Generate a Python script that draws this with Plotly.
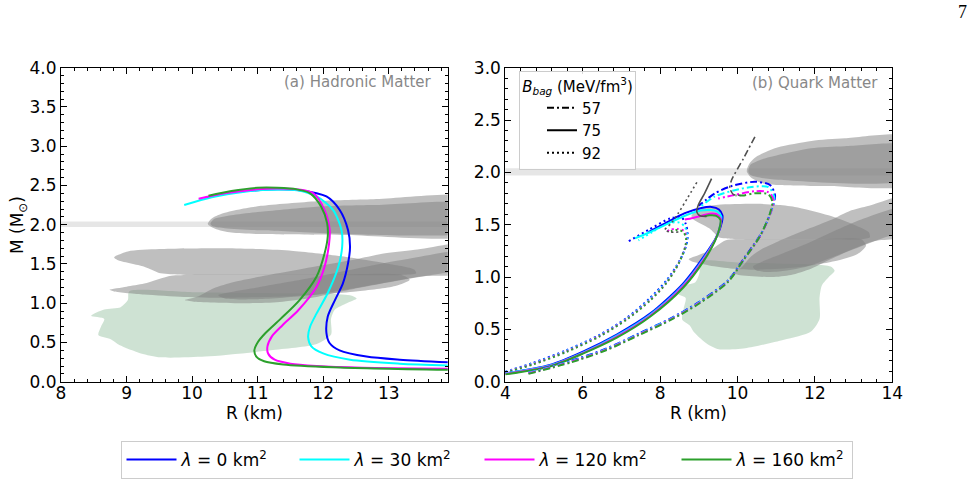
import plotly.graph_objects as go

# ---------------- constraint regions (R in km, M in Msun) ----------------
band_R = [0.0, 20.0, 20.0, 0.0]
band_M = [1.97, 1.97, 2.04, 2.04]

green_R = [9.04, 10.0, 11.0, 12.0, 12.41, 12.51, 12.36, 12.18, 12.12, 12.12, 11.9, 11.2, 10.2,
           9.52, 9.22, 8.89, 8.76, 8.57, 8.61, 8.66, 8.46, 8.66, 8.91, 9.02]
green_M = [1.15, 1.14, 1.13, 1.12, 1.10, 1.06, 1.00, 0.92, 0.80, 0.60, 0.48, 0.40, 0.32,
           0.31, 0.36, 0.467, 0.54, 0.595, 0.70, 0.80, 0.84, 0.92, 0.95, 1.04]

j0740a_R = [10.24, 10.30, 10.45, 10.70, 11.05, 11.91, 12.77, 14.5, 14.5, 12.3, 11.05, 10.6, 10.35]
j0740a_M = [2.01, 2.08, 2.14, 2.19, 2.24, 2.30, 2.325, 2.335, 1.89, 1.87, 1.88, 1.90, 1.95]
j0740b_R = [10.28, 10.33, 10.6, 11.05, 11.9, 12.77, 14.5, 14.5, 11.05, 10.5, 10.32]
j0740b_M = [2.01, 2.07, 2.12, 2.165, 2.23, 2.25, 2.25, 1.94, 1.93, 1.955, 1.98]

j0030a_R = [8.81, 9.02, 9.5, 10.5, 11.0, 11.48, 12.35, 12.95, 13.39, 13.42, 13.2, 12.0, 10.0, 9.67, 9.52, 9.27, 8.86]
j0030a_M = [1.585, 1.66, 1.69, 1.70, 1.69, 1.67, 1.59, 1.51, 1.43, 1.38, 1.36, 1.36, 1.36, 1.37, 1.38, 1.465, 1.55]
j0030b_R = [8.74, 9.0, 9.27, 9.68, 10.0, 12.0, 13.2, 13.32, 13.1, 12.5, 11.5, 10.5, 9.88, 9.27, 8.81]
j0030b_M = [1.17, 1.21, 1.25, 1.35, 1.36, 1.36, 1.36, 1.30, 1.22, 1.15, 1.09, 1.07, 1.08, 1.11, 1.15]

tilt_a_R = [9.89, 10.1, 10.33, 10.64, 11.05, 11.9, 12.5, 12.9, 13.4, 14.5, 14.5, 13.82, 12.9, 12.4, 11.9, 11.38, 10.88, 10.03]
tilt_a_M = [1.04, 1.09, 1.19, 1.27, 1.34, 1.47, 1.56, 1.63, 1.68, 1.78, 1.45, 1.38, 1.25, 1.17, 1.08, 1.02, 1.00, 1.02]
tilt_b_R = [10.4, 11.0, 11.8, 12.5, 13.2, 14.5, 14.5, 13.5, 12.6, 11.8, 11.0, 10.5]
tilt_b_M = [1.10, 1.20, 1.32, 1.44, 1.55, 1.68, 1.40, 1.34, 1.21, 1.10, 1.05, 1.06]

# ---------------- hadronic matter M-R curves ----------------
lam_labels = ["0", "30", "120", "160"]
lam_colors = ["#0000ff", "#00ffff", "#ff00ff", "#2ca02c"]

had_R = [
    [10.20, 10.6, 11.0, 11.3, 11.64, 12.05, 12.25, 12.38, 12.41, 12.38, 12.30, 12.18, 12.07, 12.05, 12.10, 12.25, 12.66, 13.17, 13.95],
    [9.88, 10.3, 10.8, 11.2, 11.6, 11.9, 12.15, 12.28, 12.29, 12.23, 12.07, 11.9, 11.8, 11.77, 11.82, 12.0, 12.41, 13.17, 13.95],
    [10.1, 10.5, 11.0, 11.3, 11.6, 11.85, 12.02, 12.10, 12.09, 12.02, 11.9, 11.62, 11.38, 11.22, 11.15, 11.16, 11.26, 11.5, 11.9, 12.6, 13.95],
    [10.25, 10.6, 11.0, 11.3, 11.6, 11.8, 11.97, 12.06, 12.07, 12.02, 11.9, 11.64, 11.35, 11.12, 11.0, 10.95, 10.98, 11.1, 11.39, 12.15, 13.95],
]
had_M = [
    [2.34, 2.41, 2.44, 2.45, 2.44, 2.36, 2.19, 1.93, 1.72, 1.51, 1.25, 1.04, 0.83, 0.62, 0.49, 0.40, 0.32, 0.28, 0.245],
    [2.25, 2.35, 2.42, 2.445, 2.44, 2.36, 2.19, 1.93, 1.72, 1.46, 1.13, 0.87, 0.70, 0.57, 0.45, 0.36, 0.28, 0.23, 0.205],
    [2.33, 2.40, 2.45, 2.46, 2.45, 2.40, 2.19, 1.93, 1.76, 1.46, 1.21, 0.91, 0.72, 0.58, 0.45, 0.36, 0.28, 0.23, 0.20, 0.178, 0.166],
    [2.37, 2.43, 2.47, 2.47, 2.45, 2.40, 2.23, 2.02, 1.85, 1.63, 1.34, 1.04, 0.80, 0.62, 0.50, 0.40, 0.32, 0.26, 0.22, 0.185, 0.150],
]

# ---------------- quark matter M-R curves ----------------
bag_labels = ["57", "75", "92"]

q57_R = [
    [4.6, 5.7, 6.6, 7.45, 8.3, 9.0, 9.76, 10.19, 10.62, 10.88, 10.97, 10.84, 10.45, 9.85, 9.42, 9.0],
    [4.6, 5.7, 6.6, 7.45, 8.3, 9.0, 9.76, 10.19, 10.61, 10.87, 10.95, 10.8, 10.37, 9.93, 9.42, 9.0],
    [4.6, 5.7, 6.6, 7.45, 8.3, 9.0, 9.76, 10.17, 10.6, 10.86, 10.93, 10.8, 10.45, 9.93, 9.5],
    [4.6, 5.7, 6.6, 7.45, 8.3, 9.0, 9.76, 10.15, 10.58, 10.84, 10.9, 10.8, 10.45, 10.17, 9.95],
]
q57_M = [
    [0.085, 0.20, 0.315, 0.46, 0.61, 0.76, 0.97, 1.19, 1.42, 1.64, 1.78, 1.88, 1.91, 1.87, 1.80, 1.68],
    [0.085, 0.195, 0.31, 0.455, 0.605, 0.755, 0.965, 1.18, 1.41, 1.63, 1.76, 1.86, 1.86, 1.83, 1.77, 1.66],
    [0.08, 0.19, 0.305, 0.45, 0.60, 0.75, 0.96, 1.17, 1.40, 1.62, 1.74, 1.81, 1.82, 1.785, 1.75],
    [0.075, 0.185, 0.30, 0.445, 0.595, 0.745, 0.955, 1.16, 1.39, 1.61, 1.72, 1.79, 1.80, 1.78, 1.78],
]
q57_gray_R = [10.45, 10.15, 9.85, 9.80, 9.89, 10.1]
q57_gray_M = [2.34, 2.13, 1.93, 1.85, 1.79, 1.78]

q75_R = [
    [4.0, 5.15, 6.02, 6.88, 7.74, 8.6, 9.12, 9.46, 9.60, 9.61, 9.52, 9.33, 9.07, 8.64, 8.21, 7.70],
    [4.0, 5.15, 6.02, 6.88, 7.74, 8.6, 9.12, 9.44, 9.57, 9.58, 9.48, 9.30, 9.05, 8.64, 8.2, 7.75, 7.35],
    [4.0, 5.15, 6.02, 6.88, 7.74, 8.6, 9.12, 9.43, 9.56, 9.57, 9.46, 9.28, 9.07, 8.85, 8.64],
    [4.0, 5.15, 6.02, 6.88, 7.74, 8.6, 9.12, 9.42, 9.55, 9.56, 9.45, 9.28, 9.15],
]
q75_M = [
    [0.08, 0.16, 0.29, 0.45, 0.65, 0.94, 1.19, 1.385, 1.53, 1.59, 1.645, 1.67, 1.66, 1.61, 1.53, 1.43],
    [0.08, 0.155, 0.28, 0.44, 0.64, 0.925, 1.175, 1.37, 1.52, 1.58, 1.625, 1.64, 1.635, 1.585, 1.51, 1.43, 1.37],
    [0.075, 0.15, 0.275, 0.43, 0.63, 0.915, 1.165, 1.36, 1.50, 1.555, 1.60, 1.605, 1.585, 1.565, 1.55],
    [0.07, 0.145, 0.27, 0.42, 0.62, 0.90, 1.15, 1.345, 1.49, 1.545, 1.585, 1.59, 1.58],
]
q75_gray_R = [9.33, 9.15, 8.99, 8.95, 9.03, 9.2]
q75_gray_M = [1.94, 1.80, 1.69, 1.62, 1.585, 1.58]

q92_R = [
    [4.0, 4.72, 5.58, 6.45, 7.14, 7.74, 8.17, 8.51, 8.69, 8.71, 8.66, 8.55, 8.26, 7.70, 7.18],
    [4.0, 4.72, 5.58, 6.45, 7.14, 7.74, 8.17, 8.50, 8.68, 8.70, 8.64, 8.5, 8.17, 7.80, 7.44],
    [4.0, 4.72, 5.58, 6.45, 7.14, 7.74, 8.17, 8.49, 8.66, 8.68, 8.62, 8.45, 8.25, 8.15],
    [4.0, 4.72, 5.58, 6.45, 7.14, 7.74, 8.17, 8.48, 8.65, 8.67, 8.6, 8.45, 8.3, 8.2],
]
q92_M = [
    [0.095, 0.18, 0.30, 0.45, 0.61, 0.80, 0.97, 1.16, 1.32, 1.42, 1.51, 1.57, 1.56, 1.45, 1.34],
    [0.092, 0.175, 0.295, 0.445, 0.605, 0.79, 0.96, 1.15, 1.31, 1.40, 1.48, 1.52, 1.51, 1.43, 1.35],
    [0.09, 0.17, 0.29, 0.44, 0.60, 0.78, 0.95, 1.14, 1.30, 1.38, 1.44, 1.46, 1.45, 1.43],
    [0.088, 0.165, 0.285, 0.435, 0.595, 0.775, 0.945, 1.13, 1.29, 1.37, 1.43, 1.45, 1.44, 1.43],
]
q92_gray_R = [8.95, 8.7, 8.47, 8.28, 8.12, 8.25, 8.5]
q92_gray_M = [1.905, 1.75, 1.61, 1.51, 1.45, 1.43, 1.43]

# ---------------- styles ----------------
FONT = "DejaVu Sans"
FS = 17
GRAY_FILL = "rgba(128,128,128,0.5)"
GREEN_FILL = "rgba(60,140,80,0.25)"
BAND_FILL = "rgba(200,200,200,0.45)"
DASHDOT = "7px,3px,2px,3px"
DOT = "2px,3px"
GRAYLINE = "#505050"

fig = go.Figure()


def add_poly(xs, ys, color, xa, ya, shape="spline"):
    fig.add_trace(go.Scatter(
        x=list(xs) + [xs[0]], y=list(ys) + [ys[0]], mode="lines", fill="toself",
        fillcolor=color, line=dict(width=0, color=color, shape=shape, smoothing=0.7),
        hoverinfo="skip", showlegend=False, xaxis=xa, yaxis=ya))


for xa, ya in [("x", "y"), ("x2", "y2")]:
    add_poly(band_R, band_M, BAND_FILL, xa, ya, shape="linear")
    add_poly(green_R, green_M, GREEN_FILL, xa, ya)
    add_poly(j0740a_R, j0740a_M, GRAY_FILL, xa, ya)
    add_poly(j0740b_R, j0740b_M, GRAY_FILL, xa, ya)
    add_poly(j0030a_R, j0030a_M, GRAY_FILL, xa, ya)
    add_poly(j0030b_R, j0030b_M, GRAY_FILL, xa, ya)
    add_poly(tilt_a_R, tilt_a_M, GRAY_FILL, xa, ya)
    add_poly(tilt_b_R, tilt_b_M, GRAY_FILL, xa, ya)

legend_widths = [108, 120, 132, 110]

# hadronic curves (these carry the bottom legend)
for i in range(4):
    fig.add_trace(go.Scatter(
        x=had_R[i], y=had_M[i], mode="lines",
        line=dict(color=lam_colors[i], width=2, shape="spline", smoothing=0.8),
        name="<i>λ</i> = " + lam_labels[i] + " km<sup>2</sup>",
        legend="legend", legendwidth=legend_widths[i],
        xaxis="x", yaxis="y"))

# quark curves
for R_list, M_list, dash in [(q92_R, q92_M, DOT), (q75_R, q75_M, "solid"), (q57_R, q57_M, DASHDOT)]:
    for i in range(4):
        fig.add_trace(go.Scatter(
            x=R_list[i], y=M_list[i], mode="lines",
            line=dict(color=lam_colors[i], width=2, dash=dash, shape="spline", smoothing=0.8),
            showlegend=False, xaxis="x2", yaxis="y2"))

for gR, gM, dash in [(q92_gray_R, q92_gray_M, DOT), (q75_gray_R, q75_gray_M, "solid"), (q57_gray_R, q57_gray_M, DASHDOT)]:
    fig.add_trace(go.Scatter(
        x=gR, y=gM, mode="lines",
        line=dict(color=GRAYLINE, width=1.6, dash=dash, shape="spline", smoothing=0.6),
        showlegend=False, xaxis="x2", yaxis="y2"))

# bag-constant legend entries
for lab, dash in zip(bag_labels, [DASHDOT, "solid", DOT]):
    fig.add_trace(go.Scatter(
        x=[None], y=[None], mode="lines", line=dict(color="black", width=2, dash=dash),
        name=lab, legend="legend2", xaxis="x2", yaxis="y2"))

W, H = 970, 483
axcommon = dict(showline=True, linecolor="black", linewidth=1, mirror="ticks",
                ticks="inside", ticklen=6, tickwidth=1, tickcolor="black",
                showgrid=False, zeroline=False, automargin=False,
                tickfont=dict(family=FONT, size=FS, color="black"))

ydom = [1 - 381.7 / H, 1 - 67.7 / H]
fig.update_layout(
    width=W, height=H,
    margin=dict(l=0, r=0, t=0, b=0, autoexpand=False),
    paper_bgcolor="white", plot_bgcolor="white",
    font=dict(family=FONT, size=FS, color="black"),
    xaxis=dict(domain=[61 / W, 447.7 / W], range=[8, 13.9], dtick=1, tick0=8, anchor="y",
               ticklabelstandoff=-4,
               minor=dict(ticks="inside", ticklen=3, dtick=0.2, tick0=8, tickcolor="black", showgrid=False),
               **axcommon),
    yaxis=dict(domain=ydom, range=[0, 4], dtick=0.5, tick0=0, tickformat=".1f", anchor="x",
               minor=dict(ticks="inside", ticklen=3, dtick=0.1, tick0=0, tickcolor="black", showgrid=False),
               **axcommon),
    xaxis2=dict(domain=[505.3 / W, 892.3 / W], range=[4, 14], dtick=2, tick0=4, anchor="y2",
                ticklabelstandoff=-4,
                minor=dict(ticks="inside", ticklen=3, dtick=0.4, tick0=4, tickcolor="black", showgrid=False),
                **axcommon),
    yaxis2=dict(domain=ydom, range=[0, 3], dtick=0.5, tick0=0, tickformat=".1f", anchor="x2",
                minor=dict(ticks="inside", ticklen=3, dtick=0.1, tick0=0, tickcolor="black", showgrid=False),
                **axcommon),
    legend=dict(orientation="h", x=486.5 / W, xanchor="center", y=1 - 441 / H, yanchor="top",
                bordercolor="#cccccc", borderwidth=1, bgcolor="white", itemwidth=50,
                font=dict(family=FONT, size=FS, color="black")),
    legend2=dict(x=519 / W, xanchor="left", y=1 - 71 / H, yanchor="top",
                 bordercolor="#cccccc", borderwidth=1, bgcolor="rgba(255,255,255,0.85)",
                 indentation=22,
                 title=dict(text="<i>B</i><sub><i>bag</i></sub> (MeV/fm<sup>3</sup>)", side="top center",
                            font=dict(family=FONT, size=15, color="black")),
                 font=dict(family=FONT, size=15, color="black")),
    showlegend=True,
    annotations=[
        dict(text="(a) Hadronic Matter", x=433 / W, y=1 - 82 / H, xref="paper", yref="paper",
             xanchor="right", yanchor="middle", showarrow=False,
             font=dict(family=FONT, size=15, color="#888888")),
        dict(text="(b) Quark Matter", x=880 / W, y=1 - 83 / H, xref="paper", yref="paper",
             xanchor="right", yanchor="middle", showarrow=False,
             font=dict(family=FONT, size=15, color="#888888")),
        dict(text="R (km)", x=(61 + 447.7) / 2 / W, y=1 - 413 / H, xref="paper", yref="paper",
             xanchor="center", yanchor="middle", showarrow=False, font=dict(family=FONT, size=FS)),
        dict(text="R (km)", x=(505.3 + 892.3) / 2 / W, y=1 - 413 / H, xref="paper", yref="paper",
             xanchor="center", yanchor="middle", showarrow=False, font=dict(family=FONT, size=FS)),
        dict(text="M (M<sub>⊙</sub>)", x=18 / W, y=1 - 225 / H, xref="paper", yref="paper",
             xanchor="center", yanchor="middle", textangle=-90, showarrow=False,
             font=dict(family=FONT, size=FS)),
        dict(text="7", x=962 / W, y=1 - 12 / H, xref="paper", yref="paper",
             xanchor="center", yanchor="middle", showarrow=False,
             font=dict(family="Liberation Serif", size=18, color="black")),
    ],
)

fig.write_html("out.html")
